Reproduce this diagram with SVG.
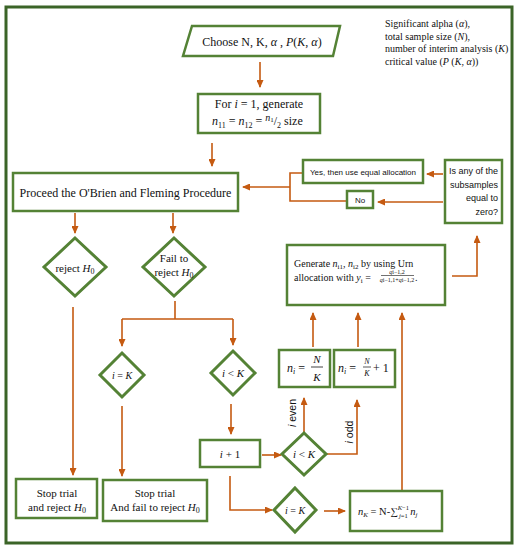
<svg xmlns="http://www.w3.org/2000/svg" width="518" height="550" viewBox="0 0 518 550">
<defs>
<style>
.box{fill:#fff;stroke:#548235;stroke-width:2.5}
.dia{fill:#fff;stroke:#548235;stroke-width:3}
.frame{fill:none;stroke:#3b6427;stroke-width:3}
.conn path{fill:none;stroke:#c55a11;stroke-width:1.6}
.arr{marker-end:url(#ah)}
text{font-family:"Liberation Serif","Times New Roman",serif;fill:#111}
.sans{font-family:"Liberation Sans",Arial,sans-serif}
.it{font-style:italic}
.mid{text-anchor:middle}
</style>
<marker id="ah" markerUnits="userSpaceOnUse" markerWidth="8" markerHeight="7" refX="7" refY="3.5" orient="auto">
<path d="M0,0 L8,3.5 L0,7 z" fill="#c55a11"/>
</marker>
</defs>
<rect width="518" height="550" fill="#fff"/>
<rect class="frame" x="6" y="7" width="506" height="536"/>

<g id="legend" font-size="10">
<text x="385" y="27">Significant alpha (<tspan class="it">α</tspan>),</text>
<text x="385" y="40">total sample size (<tspan class="it">N</tspan>),</text>
<text x="385" y="52">number of interim analysis (<tspan class="it">K</tspan>)</text>
<text x="385" y="65">critical value (<tspan class="it">P</tspan> (<tspan class="it">K</tspan>, <tspan class="it">α</tspan>))</text>
</g>

<g class="conn">
<path class="arr" d="M260,62 V87"/>
<path class="arr" d="M212,143 V166"/>
<path d="M303,173 H290 V201 H347"/>
<path class="arr" d="M290,187 H243"/>
<path class="arr" d="M443,174 H427"/>
<path class="arr" d="M443,202 H378"/>
<path class="arr" d="M452,276 H477 V236"/>
<path class="arr" d="M313,347 V313"/>
<path class="arr" d="M358,347 V313"/>
<path class="arr" d="M402,491 V313"/>
<path class="arr" d="M304,433 V398"/>
<path class="arr" d="M327,454 H357 V400"/>
<path class="arr" d="M262,455 H281"/>
<path class="arr" d="M230,476 V510 H272"/>
<path class="arr" d="M324,511 H345"/>
<path class="arr" d="M75,213 V233"/>
<path class="arr" d="M173,213 V233"/>
<path class="arr" d="M73,307 V475"/>
<path d="M175,301 V319 M122,319 H233"/>
<path class="arr" d="M122,319 V346"/>
<path class="arr" d="M233,319 V345"/>
<path class="arr" d="M122,406 V476"/>
<path class="arr" d="M231,404 V434"/>
</g>

<g id="lbl-even"><text class="sans" font-size="10.5" transform="translate(296,413) rotate(-90)" text-anchor="middle"><tspan class="it">i</tspan> even</text></g>
<g id="lbl-odd"><text class="sans" font-size="10.5" transform="translate(353,432) rotate(-90)" text-anchor="middle"><tspan class="it">i</tspan> odd</text></g>

<g id="choose">
<polygon class="box" points="192,26 340,26 333,56 183,56"/>
<text class="mid" x="262" y="46" font-size="12">Choose N, K, <tspan class="it">α</tspan> , <tspan class="it">P</tspan>(<tspan class="it">K</tspan>, <tspan class="it">α</tspan>)</text>
</g>

<g id="init">
<rect class="box" x="198" y="94" width="122" height="39"/>
<text class="mid" x="259" y="108" font-size="12">For <tspan class="it">i</tspan> = 1, generate</text>
<text x="212" y="125" font-size="12"><tspan class="it">n</tspan><tspan font-size="8" dy="3">11</tspan><tspan dy="-3"> = </tspan><tspan class="it">n</tspan><tspan font-size="8" dy="3">12</tspan><tspan dy="-3"> = </tspan><tspan class="it" font-size="10" dy="-4">n</tspan><tspan font-size="7" dy="1">1</tspan><tspan dy="3">/</tspan><tspan font-size="8" dy="3">2</tspan><tspan dy="-3"> size</tspan></text>
</g>

<g id="proceed">
<rect class="box" x="13" y="173" width="225" height="38"/>
<text class="mid" x="125.5" y="197" font-size="12">Proceed the O'Brien and Fleming Procedure</text>
</g>

<g id="yes">
<rect class="box" x="303" y="160" width="120" height="23"/>
<text class="sans mid" x="363" y="175" font-size="8">Yes, then use equal allocation</text>
</g>

<g id="no">
<rect class="box" x="347" y="191" width="26" height="17"/>
<text class="sans mid" x="360" y="203" font-size="8">No</text>
</g>

<g id="zero">
<rect class="box" x="445" y="160" width="57" height="63"/>
<text class="sans" x="498" y="174" font-size="9" text-anchor="end">Is any of the</text>
<text class="sans" x="498" y="188" font-size="9" text-anchor="end">subsamples</text>
<text class="sans" x="498" y="201" font-size="9" text-anchor="end">equal to</text>
<text class="sans" x="498" y="215" font-size="9" text-anchor="end">zero?</text>
</g>

<g id="generate">
<rect class="box" x="287" y="245" width="158" height="60"/>
<text x="294" y="267" font-size="10">Generate <tspan class="it">n</tspan><tspan font-size="7" dy="2">i1</tspan><tspan dy="-2">, </tspan><tspan class="it">n</tspan><tspan font-size="7" dy="2">i2</tspan><tspan dy="-2"> by using Urn</tspan></text>
<text x="294" y="281" font-size="10">allocation with <tspan class="it">y</tspan><tspan font-size="7" dy="2">i</tspan><tspan dy="-2"> =</tspan></text>
<text class="mid" x="397" y="273.5" font-size="6"><tspan class="it">q</tspan>i−1,2</text>
<path d="M381,275.5 H414" stroke="#111" stroke-width="0.6"/>
<text class="mid" x="397" y="282" font-size="6"><tspan class="it">q</tspan>i−1,1+<tspan class="it">q</tspan>i−1,2</text>
<text x="415" y="281" font-size="10">.</text>
</g>

<g id="even">
<rect class="box" x="279" y="350" width="51" height="37"/>
<text x="287" y="372" font-size="12"><tspan class="it">n</tspan><tspan class="it" font-size="8" dy="2">i</tspan><tspan dy="-2"> =</tspan></text>
<text class="mid it" x="317" y="363" font-size="11">N</text>
<path d="M311,367 H323" stroke="#111" stroke-width="0.8"/>
<text class="mid it" x="317" y="381" font-size="11">K</text>
</g>

<g id="odd">
<rect class="box" x="334" y="350" width="61" height="37"/>
<text x="338" y="372" font-size="12"><tspan class="it">n</tspan><tspan class="it" font-size="8" dy="2">i</tspan><tspan dy="-2"> =</tspan></text>
<text class="mid it" x="367" y="364" font-size="8">N</text>
<path d="M363,367 H371" stroke="#111" stroke-width="0.7"/>
<text class="mid it" x="367" y="376" font-size="8">K</text>
<text x="373" y="372" font-size="12">+ 1</text>
</g>

<g id="reject">
<polygon class="dia" points="75,238 106,267 75,296 44,267"/>
<text class="mid" x="75" y="272" font-size="11">reject <tspan class="it">H</tspan><tspan font-size="8" dy="2">0</tspan></text>
</g>

<g id="fail">
<polygon class="dia" points="174,238 205,267 174,296 143,267"/>
<text class="mid" x="174" y="262" font-size="11">Fail to</text>
<text class="mid" x="174" y="276" font-size="11">reject <tspan class="it">H</tspan><tspan font-size="8" dy="2">0</tspan></text>
</g>

<g id="eqK1">
<polygon class="dia" points="122,353 144,375 122,397 100,375"/>
<text class="mid" x="122" y="379" font-size="10"><tspan class="it">i</tspan> = <tspan class="it">K</tspan></text>
</g>

<g id="ltK1">
<polygon class="dia" points="233,351 255,373 233,395 211,373"/>
<text class="mid" x="233" y="377" font-size="11"><tspan class="it">i</tspan> &lt; <tspan class="it">K</tspan></text>
</g>

<g id="stop1">
<rect class="box" x="16" y="479" width="81" height="39"/>
<text class="mid" x="57" y="497" font-size="11">Stop trial</text>
<text class="mid" x="57" y="511" font-size="11">and reject <tspan class="it">H</tspan><tspan font-size="8" dy="2">0</tspan></text>
</g>

<g id="stop2">
<rect class="box" x="103" y="480" width="104" height="41"/>
<text class="mid" x="155" y="497" font-size="11">Stop trial</text>
<text class="mid" x="155" y="511" font-size="11">And fail to reject <tspan class="it">H</tspan><tspan font-size="8" dy="2">0</tspan></text>
</g>

<g id="inc">
<rect class="box" x="200" y="440" width="60" height="27"/>
<text class="mid" x="230" y="458" font-size="11"><tspan class="it">i</tspan> + 1</text>
</g>

<g id="ltK2">
<polygon class="dia" points="304,433 326,454 304,475 282,454"/>
<text class="mid" x="304" y="458" font-size="11"><tspan class="it">i</tspan> &lt; <tspan class="it">K</tspan></text>
</g>

<g id="eqK2">
<polygon class="dia" points="295,488 316,510 295,532 274,510"/>
<text class="mid" x="295" y="514" font-size="10"><tspan class="it">i</tspan> = <tspan class="it">K</tspan></text>
</g>

<g id="nK">
<rect class="box" x="350" y="491" width="92" height="40"/>
<text x="358" y="515" font-size="10.5"><tspan class="it">n</tspan><tspan class="it" font-size="7" dy="2">K</tspan><tspan dy="-2"> = N-∑</tspan><tspan class="it" font-size="6.5" dy="-5">K</tspan><tspan font-size="6.5">−1</tspan><tspan class="it" font-size="6.5" dx="-10" dy="8">j</tspan><tspan font-size="6.5">=1</tspan><tspan dy="-3"> </tspan><tspan class="it">n</tspan><tspan class="it" font-size="7" dy="2">j</tspan></text>
</g>
</svg>
